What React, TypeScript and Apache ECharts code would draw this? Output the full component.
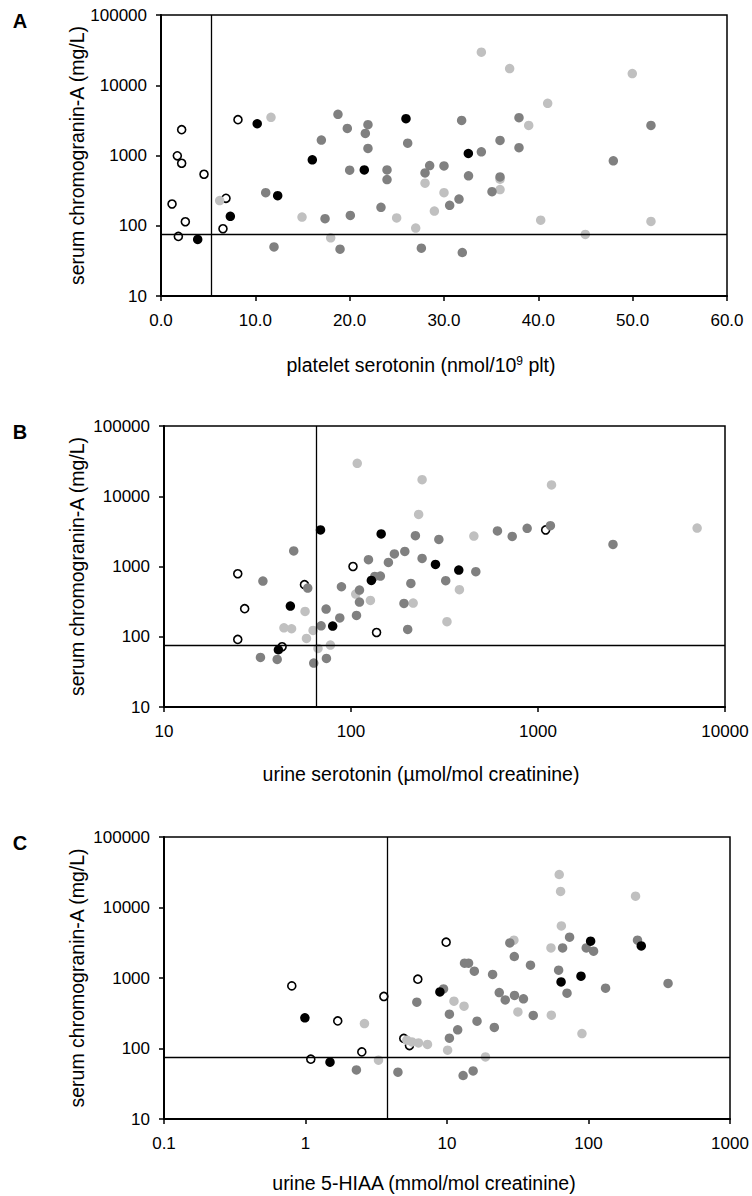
import React, { useEffect, useRef } from "react";
import * as echarts from "echarts";

// ---------- Panel A: platelet serotonin vs serum chromogranin-A ----------
const openA = [[1.73, 990], [2.19, 2330], [2.19, 776], [4.56, 541], [1.17, 204], [2.58, 114], [1.84, 70.5], [8.16, 3238], [6.89, 246], [6.57, 90.6]];
const blackA = [[3.89, 63.8], [7.35, 136], [10.2, 2832], [12.37, 268], [16.04, 867], [21.55, 624], [25.97, 3342], [32.58, 1068]];
const lightA = [[11.66, 3490], [6.22, 228], [14.95, 133], [17.99, 67.4], [24.98, 129], [27.0, 92.6], [27.99, 403], [28.98, 162], [30.0, 296], [33.96, 29580], [35.94, 459], [35.94, 327], [36.96, 17300], [38.98, 2683], [40.25, 120], [40.99, 5530], [44.98, 75.2], [49.96, 14690], [51.94, 115]];
const darkA = [[11.1, 296], [11.98, 50], [17.0, 1656], [17.39, 126], [18.76, 3853], [18.98, 46.4], [19.75, 2431], [20.0, 617], [20.07, 140], [21.94, 2742], [21.66, 2060], [21.94, 1259], [23.32, 183], [23.96, 624], [23.96, 454], [26.15, 1500], [27.6, 48], [27.99, 565], [28.48, 720], [30.0, 711], [30.6, 195], [31.59, 240], [31.87, 3162], [31.94, 41.6], [32.6, 513], [33.96, 1128], [35.09, 306], [35.94, 1638], [35.94, 496], [37.95, 3451], [37.95, 1290], [47.95, 839], [51.94, 2683]];

// ---------- Panel B: urine serotonin vs serum chromogranin-A ----------
const openB = [[24.8, 789], [27.0, 251], [24.8, 91.6], [56.4, 551], [42.8, 72], [102.5, 1000], [137, 115], [1099, 3311]];
const blackB = [[68.7, 3311], [47.4, 273], [40.9, 65.3], [79.8, 142], [128.5, 634], [145, 2904], [283, 1072], [377, 891]];
const darkB = [[33.8, 621], [49.4, 1665], [58.7, 494], [73.6, 248], [69.2, 143], [87.1, 185], [88.9, 515], [107, 201], [111, 312], [111, 462], [124, 1250], [134, 722], [143.6, 731], [32.8, 50.7], [40.3, 47.5], [63.2, 42.2], [73.9, 49.1], [221, 2750], [295, 2431], [158.5, 1143], [170.6, 1507], [194, 1641], [240, 1303], [465, 844], [321, 628], [209, 574], [192, 298], [201, 127], [607, 3206], [728, 2684], [875, 3493], [1165, 3810], [2518, 2065]];
const lightB = [[108, 29430], [43.8, 134], [48.1, 130], [56.8, 229], [57.8, 94.6], [62.7, 123], [66.6, 68.1], [77.6, 76], [106, 405], [127, 329], [240, 17220], [230, 5520], [454, 2716], [380, 467], [215, 302], [326, 164], [1181, 14490], [7096, 3530]];

// ---------- Panel C: urine 5-HIAA vs serum chromogranin-A ----------
const openC = [[0.8, 773], [1.69, 246], [2.5, 89.5], [1.09, 70.5], [9.86, 3222], [6.22, 961], [3.58, 547], [4.95, 139], [5.43, 110]];
const blackC = [[0.99, 272], [1.49, 64], [8.91, 635], [103.5, 3327], [236, 2851], [88.5, 1061], [64.0, 881]];
const lightC = [[2.61, 226], [3.28, 68.2], [11.2, 469], [13.2, 398], [10.1, 94.6], [18.7, 76], [5.2, 131], [5.65, 124], [6.29, 120], [7.28, 114], [31.7, 330], [29.7, 3437], [62.1, 29380], [63.5, 16870], [215, 14450], [64.3, 5487], [54.3, 2673], [54.6, 297], [89.9, 163]];
const darkC = [[2.29, 49.7], [9.45, 700], [6.12, 454], [10.4, 307], [16.3, 244], [11.9, 184], [10.4, 140], [21.6, 199], [4.5, 46.2], [13.0, 41.4], [15.3, 48.1], [13.3, 1622], [14.2, 1622], [15.6, 1248], [21.0, 1122], [23.4, 622], [25.8, 489], [30.0, 565], [34.7, 506], [40.7, 294], [27.8, 3148], [29.9, 2018], [38.9, 1520], [73.5, 3793], [65.6, 2673], [96.4, 2673], [108.6, 2399], [222, 3437], [61.5, 1291], [70.5, 608], [132, 717], [365, 836]];

// reference (cut-off) lines
const cutoffX = [5.3, 65, 3.8];
const cutoffY = 75;

const panelLetters = ["A", "B", "C"];
const yTitle = "serum chromogranin-A (mg/L)";
const xTitles = [
  "platelet serotonin (nmol/10{sup|9} plt)",
  "urine serotonin (µmol/mol creatinine)",
  "urine 5-HIAA (mmol/mol creatinine)",
];

const FONT = "'Liberation Sans', Arial, Helvetica, sans-serif";

const grids = [
  { left: 161, top: 15, width: 566, height: 281 },
  { left: 164, top: 426, width: 561, height: 281 },
  { left: 164, top: 837, width: 566, height: 282 },
];
const xTitlePos = [
  [421, 365],
  [421, 774],
  [424, 1183],
];

const fmtNum = (v: number) => String(Number(v.toPrecision(6)));

export default function App() {
  const ref = useRef<HTMLDivElement>(null);
  useEffect(() => {
    const chart = echarts.init(ref.current!, null, { renderer: "svg" });
    const groups = [
      [openA, lightA, darkA, blackA],
      [openB, lightB, darkB, blackB],
      [openC, lightC, darkC, blackC],
    ];
    const styles = [
      { symbolSize: 8, itemStyle: { color: "#ffffff", borderColor: "#000000", borderWidth: 1.6, opacity: 1 } },
      { symbolSize: 9.5, itemStyle: { color: "#c0c0c0", borderWidth: 0, opacity: 1 } },
      { symbolSize: 9.5, itemStyle: { color: "#808080", borderWidth: 0, opacity: 1 } },
      { symbolSize: 9.5, itemStyle: { color: "#000000", borderWidth: 0, opacity: 1 } },
    ];
    const axisCommon = {
      axisLine: { show: true, lineStyle: { color: "#000", width: 2 } },
      axisTick: { show: true, inside: false, length: 5, lineStyle: { color: "#000", width: 1.5 } },
      splitLine: { show: false },
      minorTick: { show: false },
    };
    const xAxes = [
      {
        type: "value", gridIndex: 0, min: 0, max: 60, interval: 10,
        ...axisCommon,
        axisLabel: { margin: 16, fontSize: 17, color: "#000", fontFamily: FONT, formatter: (v: number) => v.toFixed(1) },
      },
      {
        type: "log", gridIndex: 1, min: 10, max: 10000, logBase: 10,
        ...axisCommon,
        axisLabel: { margin: 16, fontSize: 17, color: "#000", fontFamily: FONT, formatter: fmtNum },
      },
      {
        type: "log", gridIndex: 2, min: 0.1, max: 1000, logBase: 10,
        ...axisCommon,
        axisLabel: { margin: 16, fontSize: 17, color: "#000", fontFamily: FONT, formatter: fmtNum },
      },
    ];
    const yAxes = [0, 1, 2].map((i) => ({
      type: "log", gridIndex: i, min: 10, max: 100000, logBase: 10,
      ...axisCommon,
      axisLabel: { margin: 14, fontSize: 17, color: "#000", fontFamily: FONT, formatter: fmtNum },
    }));
    const series: any[] = [];
    groups.forEach((g, pi) => {
      g.forEach((data, gi) => {
        const s: any = {
          type: "scatter",
          xAxisIndex: pi,
          yAxisIndex: pi,
          data,
          symbol: "circle",
          ...styles[gi],
          emphasis: { disabled: true },
        };
        if (gi === 0) {
          s.markLine = {
            silent: true,
            symbol: ["none", "none"],
            label: { show: false },
            lineStyle: { color: "#000", width: 1.3, type: "solid", opacity: 1 },
            emphasis: { disabled: true },
            data: [{ xAxis: cutoffX[pi] }, { yAxis: cutoffY }],
          };
        }
        series.push(s);
      });
    });
    const graphics: any[] = [];
    grids.forEach((g, i) => {
      graphics.push({
        type: "text",
        x: 20, y: g.top + 6,
        style: { text: panelLetters[i], font: `bold 20px ${FONT}`, fill: "#000", align: "center", verticalAlign: "middle" },
      });
      graphics.push({
        type: "text",
        x: 77, y: g.top + g.height / 2,
        rotation: Math.PI / 2,
        style: { text: yTitle, font: `19.5px ${FONT}`, fill: "#000", align: "center", verticalAlign: "middle" },
      });
      graphics.push({
        type: "text",
        x: xTitlePos[i][0], y: xTitlePos[i][1],
        style: {
          text: xTitles[i],
          fontSize: 19.5,
          fontFamily: FONT,
          fill: "#000",
          align: "center",
          verticalAlign: "middle",
          rich: {
            sup: { fontSize: 12, fontFamily: FONT, fill: "#000", verticalAlign: "top", lineHeight: 14 },
          },
        },
      });
    });
    chart.setOption({
      animation: false,
      backgroundColor: "#fff",
      grid: grids.map((g) => ({ ...g, show: true, borderColor: "#000", borderWidth: 1.5, backgroundColor: "transparent", containLabel: false, outerBoundsMode: "none" })),
      xAxis: xAxes,
      yAxis: yAxes,
      series,
      graphic: graphics,
    });
    return () => chart.dispose();
  }, []);
  return (
    <div
      ref={ref}
      style={{ position: "absolute", left: 0, top: 0, width: 752, height: 1196, background: "#fff" }}
    />
  );
}
